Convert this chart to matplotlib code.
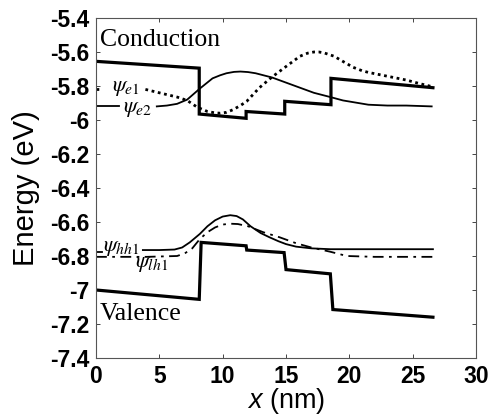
import numpy as np
import matplotlib
matplotlib.use('Agg')
import matplotlib.pyplot as plt

plt.rcParams['mathtext.fontset'] = 'custom'
plt.rcParams['mathtext.it'] = 'Liberation Sans:italic'
plt.rcParams['mathtext.rm'] = 'Liberation Sans'

# band edges (nm, eV)
x_cb = [0, 8.15, 8.15, 11.85, 11.85, 14.9, 14.9, 18.55, 18.55, 26.6]
e_cb = [-5.655, -5.695, -5.965, -5.99, -5.95, -5.965, -5.89, -5.91, -5.755, -5.81]

x_vb = [0, 8.15, 8.3, 11.85, 11.9, 14.85, 15.0, 18.5, 18.7, 26.6]
e_vb = [-7.00, -7.055, -6.72, -6.74, -6.765, -6.78, -6.88, -6.905, -7.115, -7.16]

# wavefunctions
x_e1 = [3.9, 5, 6.4, 7.2, 8, 8.8, 9.4, 9.8, 10.3, 10.8, 11.4, 11.9, 12.9, 13.9,
        15.1, 16.1, 16.7, 17.2, 17.6, 18.0, 18.8, 19.6, 20.3, 21.0, 21.5, 22.5,
        23.5, 24.5, 25.5, 26.6]
e_e1 = [-5.82, -5.84, -5.865, -5.885, -5.925, -5.95, -5.958, -5.96, -5.955, -5.94,
        -5.915, -5.89, -5.81, -5.747, -5.68, -5.625, -5.607, -5.60, -5.600, -5.605,
        -5.625, -5.66, -5.69, -5.71, -5.72, -5.735, -5.75, -5.765, -5.785, -5.805]

x_e2 = [4.8, 5.6, 6.4, 7.2, 8.2, 9.2, 9.8, 10.3, 10.9, 11.4, 12.0, 12.6, 13.9, 15,
        16.1, 17.2, 18.5, 19.5, 20.3, 21.5, 23, 24.5, 26.5]
e_e2 = [-5.92, -5.915, -5.905, -5.88, -5.815, -5.755, -5.737, -5.725, -5.717,
        -5.715, -5.718, -5.725, -5.75, -5.78, -5.81, -5.84, -5.865, -5.885, -5.895,
        -5.91, -5.915, -5.915, -5.92]

x_hh = [3.7, 5, 6.2, 6.8, 7.4, 8.2, 8.8, 9.4, 10.0, 10.6, 11.1, 11.6, 12.2, 13.0,
        13.7, 14.4, 15, 15.8, 17, 18.5, 22, 26.6]
e_hh = [-6.765, -6.765, -6.762, -6.75, -6.72, -6.67, -6.625, -6.59, -6.568,
        -6.56, -6.565, -6.585, -6.625, -6.665, -6.69, -6.713, -6.73, -6.745,
        -6.755, -6.76, -6.76, -6.76]

x_lh = [0, 2, 4, 6.4, 7.0, 7.6, 8.2, 8.8, 9.4, 10.0, 10.6, 11.2, 12, 13.2, 14.5,
        15.8, 17, 18.5, 19.8, 22, 26.6]
e_lh = [-6.805, -6.805, -6.805, -6.80, -6.785, -6.755, -6.70, -6.66, -6.632,
        -6.615, -6.61, -6.612, -6.625, -6.66, -6.69, -6.725, -6.75, -6.775, -6.80,
        -6.805, -6.805]

xticks = [0, 5, 10, 15, 20, 25, 30]
yticks = [-5.4, -5.6, -5.8, -6, -6.2, -6.4, -6.6, -6.8, -7, -7.2, -7.4]
ytick_labels = ['-5.4', '-5.6', '-5.8', '-6', '-6.2', '-6.4', '-6.6', '-6.8', '-7', '-7.2', '-7.4']

fig = plt.figure(figsize=(4.91, 4.15), dpi=100)
ax = fig.add_axes([96/491, 1-358/415, 380/491, 340/415])

ax.plot(x_cb, e_cb, color='black', lw=2.3, solid_joinstyle='miter')
ax.plot(x_vb, e_vb, color='black', lw=2.3, solid_joinstyle='miter')

ax.plot(x_e1, e_e1, color='black', lw=2, linestyle=(0, (1, 1.3)))
ax.plot([0, 0.5], [-5.82, -5.82], color='black', lw=2, linestyle=(0, (1, 1.3)))
ax.plot(x_e2, e_e2, color='black', lw=1.3)
ax.plot([0, 1.8], [-5.92, -5.92], color='black', lw=1.3)
ax.plot(x_hh, e_hh, color='black', lw=1.3)
ax.plot([0, 0.5], [-6.775, -6.775], color='black', lw=1.3)
ax.plot(x_lh, e_lh, color='black', lw=1.3, linestyle=(0, (6, 3, 1.5, 3)))

ax.text(0.3, -5.53, 'Conduction', family='Liberation Serif', fontsize=18.5, va='center', ha='left')
ax.text(0.3, -7.14, 'Valence', family='Liberation Serif', fontsize=18.5, va='center', ha='left')
ax.text(1.3, -5.81, r'$\psi_{e1}$', fontsize=16, va='center', ha='left', math_fontfamily='stix')
ax.text(2.1, -5.935, r'$\psi_{e2}$', fontsize=16, va='center', ha='left', math_fontfamily='stix')
ax.text(0.55, -6.752, r'$\psi_{hh1}$', fontsize=16, va='center', ha='left', math_fontfamily='stix')
ax.text(3.1, -6.845, r'$\psi_{lh1}$', fontsize=16, va='center', ha='left', math_fontfamily='stix')

ax.set_xlim(0, 30)
ax.set_ylim(-7.4, -5.4)
ax.set_xticks(xticks)
ax.set_yticks(yticks)
ax.set_yticklabels(ytick_labels)
ax.tick_params(direction='in', length=3, width=0.7, color='#444444',
               top=True, right=True, labelsize=16.5, pad=5)
for lab in ax.get_xticklabels() + ax.get_yticklabels():
    lab.set_family('Liberation Sans')
    lab.set_fontweight('bold')
for sp in ax.spines.values():
    sp.set_linewidth(0.8)
    sp.set_color('#555555')

ax.set_ylabel('Energy (eV)', family='Liberation Sans', fontsize=21, labelpad=7)
ax.set_xlabel(r'$x$ (nm)', family='Liberation Sans', fontsize=19.5)
ax.xaxis.set_label_coords(0.5, -0.083)

fig.savefig('out.png', dpi=100)
